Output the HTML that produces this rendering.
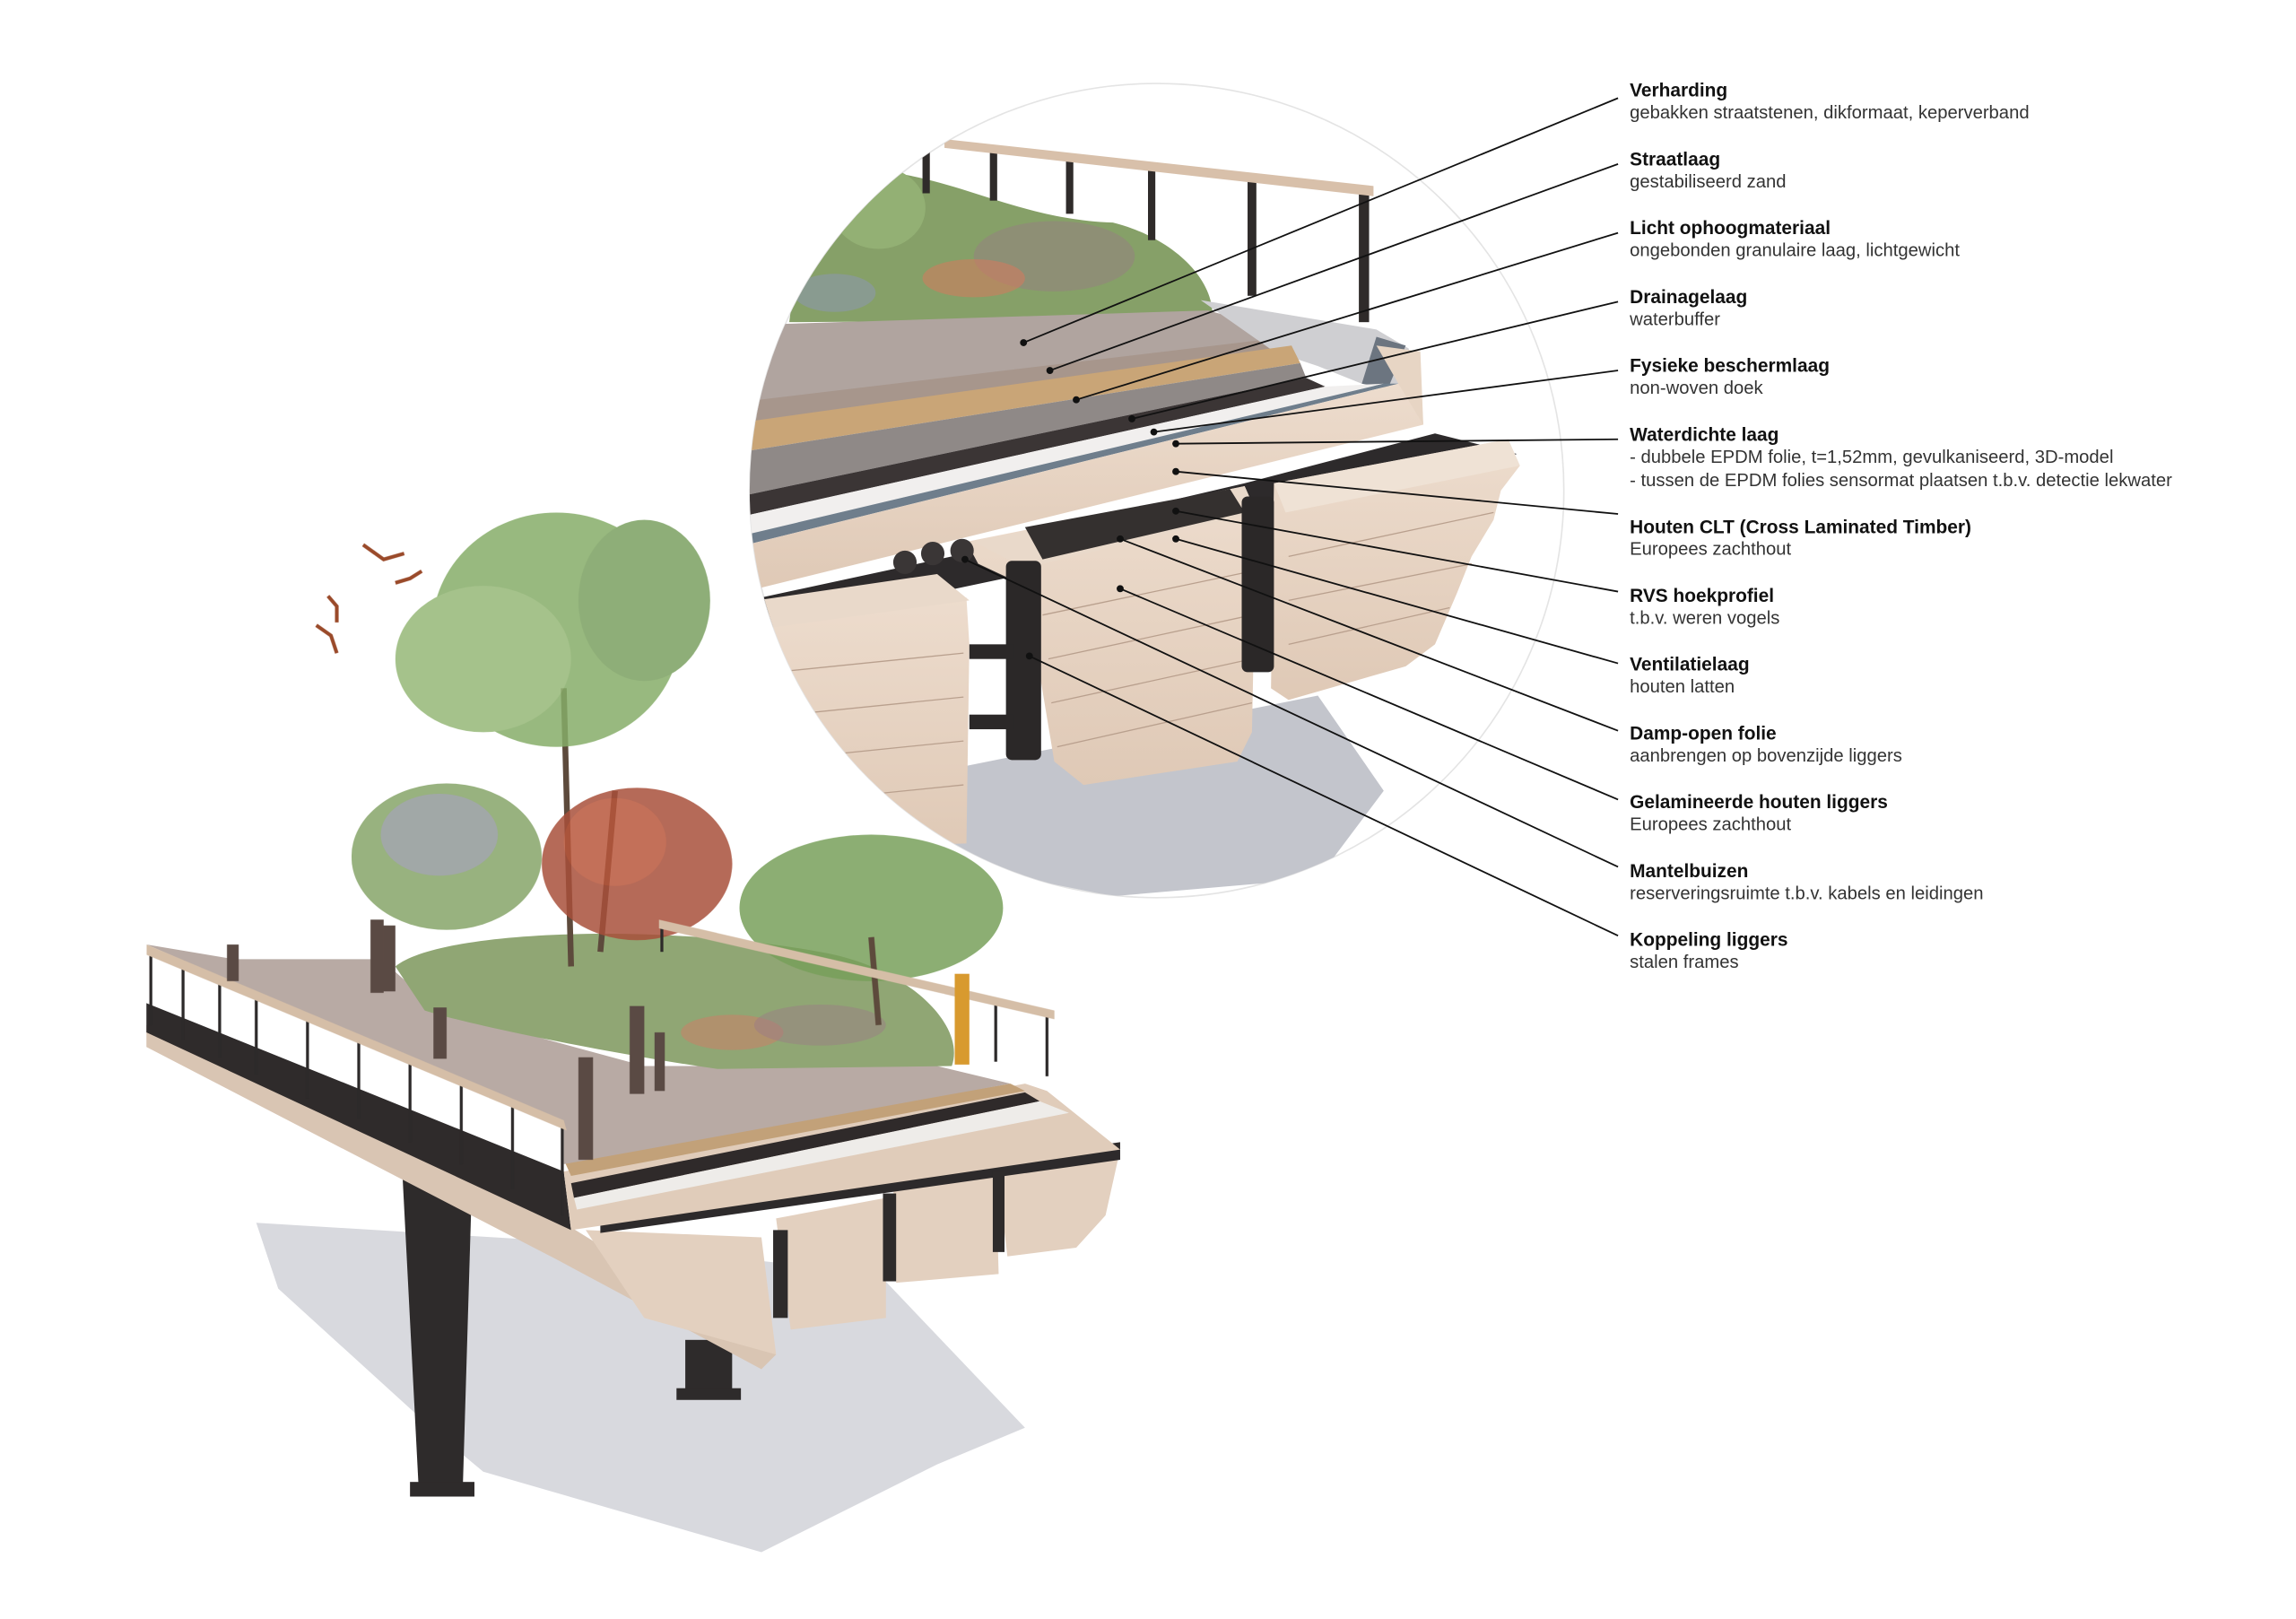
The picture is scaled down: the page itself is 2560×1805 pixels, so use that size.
<!DOCTYPE html>
<html><head><meta charset="utf-8"><style>
html,body{margin:0;padding:0;background:#fff;}
svg{display:block;}
.t{font-family:"Liberation Sans",sans-serif;font-weight:bold;font-size:12.8px;fill:#111;}
.s{font-family:"Liberation Sans",sans-serif;font-size:12.4px;fill:#333;}
</style></head><body>
<svg width="2560" height="1805" viewBox="0 0 1568 1105.6" preserveAspectRatio="none" xmlns="http://www.w3.org/2000/svg">
<defs>
<clipPath id="c"><circle cx="790" cy="335" r="278"/></clipPath>
<linearGradient id="wood" x1="0" y1="0" x2="0" y2="1"><stop offset="0" stop-color="#eddccd"/><stop offset="1" stop-color="#dfc9b6"/></linearGradient>
</defs>
<rect width="1568" height="1106" fill="#fff"/>

<!-- ===== Detail circle ===== -->
<circle cx="790" cy="335" r="278" fill="none" stroke="#e4e4e4" stroke-width="1"/>
<g clip-path="url(#c)">
 <!-- shadow -->
 <polygon points="650,525 900,475 945,540 900,600 760,612 650,590" fill="#c3c5cc"/>
 <!-- plants -->
 <path d="M539,220 C545,170 570,130 610,118 C660,125 700,150 760,152 C800,162 830,190 828,218 Z" fill="#86a068"/>
 <ellipse cx="600" cy="142" rx="32" ry="28" fill="#93b074"/>
 <ellipse cx="720" cy="175" rx="55" ry="24" fill="#9a7a86" opacity="0.45"/>
 <ellipse cx="665" cy="190" rx="35" ry="13" fill="#d57a5c" opacity="0.55"/>
 <ellipse cx="570" cy="200" rx="28" ry="13" fill="#8d95c0" opacity="0.45"/>
 <!-- railing -->
 <g fill="#2f2b2a">
  <rect x="630" y="102" width="5" height="30"/><rect x="676" y="102" width="5" height="35"/>
  <rect x="728" y="108" width="5" height="38"/><rect x="784" y="114" width="5" height="50"/>
  <rect x="852" y="122" width="6" height="80"/><rect x="928" y="130" width="7" height="90"/>
 </g>
 <polygon points="645,95 938,127 938,134 645,101" fill="#d8c0aa"/>
 <!-- paving -->
 <polygon points="510,222 825,212 872,225 880,238 623,263 510,285" fill="#b0a49f"/>
 <polygon points="510,274 880,230 882,238 510,290" fill="#a7968c"/>
 <!-- right end face -->
 <polygon points="820,205 940,225 962,238 968,270 930,262 900,250 870,240" fill="#cfcfd2"/>
 <polygon points="940,230 960,236 948,265 930,262" fill="#6c7580"/>
 <!-- sand -->
 <polygon points="510,288 882,236 888,248 510,308" fill="#c9a577"/>
 <!-- gravel -->
 <polygon points="510,308 888,248 892,258 510,338" fill="#8f8987"/>
 <!-- dark -->
 <polygon points="510,338 892,258 905,264 510,352" fill="#3b3535"/>
 <!-- white -->
 <polygon points="510,352 905,264 945,262 510,365" fill="#f1efee"/>
 <!-- blue stripe -->
 <polygon points="510,365 945,262 955,262 510,372" fill="#6f7e8c"/>
 <!-- CLT -->
 <polygon points="510,372 955,262 970,268 972,290 517,402" fill="url(#wood)"/>
 <polygon points="940,236 970,240 972,290 955,262" fill="#e7d5c4"/>
 <!-- beams dark tops -->
 <polygon points="520,408 650,380 700,365 850,330 980,296 1036,310 860,352 700,392 520,430" fill="#2d2a2b"/>
 <!-- right beam -->
 <polygon points="870,330 1030,300 1038,318 1025,335 1020,355 1005,380 995,405 980,440 960,455 880,478 868,470" fill="url(#wood)"/>
 <polygon points="870,330 1030,300 1038,318 878,350" fill="#efe2d5"/>
 <!-- middle beam -->
 <polygon points="660,370 850,332 858,350 855,500 845,520 740,536 720,520 700,400 668,385" fill="url(#wood)"/>
 <polygon points="665,370 850,332 858,350 700,388" fill="#e9d9ca"/>
 <polygon points="700,360 840,334 850,350 712,382" fill="#34302f"/>
 <!-- left beam -->
 <polygon points="517,420 660,408 662,440 660,576 517,580" fill="url(#wood)"/>
 <polygon points="517,410 640,392 662,410 517,430" fill="#e9d9ca"/>
 <!-- beam lines -->
 <g stroke="#b9a08e" stroke-width="0.8" fill="none">
  <path d="M520,460 L658,446 M520,490 L658,476 M520,520 L658,506 M520,550 L658,536"/>
  <path d="M712,420 L855,390 M716,450 L855,420 M718,480 L855,450 M722,510 L855,480"/>
  <path d="M880,380 L1020,350 M880,410 L1005,385 M880,440 L990,415"/>
 </g>
 <!-- steel frames -->
 <rect x="687" y="383" width="24" height="136" rx="4" fill="#2b2828"/>
 <rect x="662" y="440" width="30" height="10" fill="#2b2828"/>
 <rect x="662" y="488" width="30" height="10" fill="#2b2828"/>
 <rect x="848" y="339" width="22" height="120" rx="4" fill="#2b2828"/>
 <!-- pipes -->
 <circle cx="618" cy="384" r="8" fill="#3a3636"/><circle cx="637" cy="378" r="8" fill="#3a3636"/><circle cx="657" cy="376" r="8" fill="#3a3636"/>
</g>

<!-- leader lines -->
<g stroke="#111" stroke-width="1.1" fill="none">
 <line x1="699" y1="234" x2="1105" y2="67"/>
 <line x1="717" y1="253" x2="1105" y2="112"/>
 <line x1="735" y1="273" x2="1105" y2="159"/>
 <line x1="773" y1="286" x2="1105" y2="206"/>
 <line x1="788" y1="295" x2="1105" y2="253"/>
 <line x1="803" y1="303" x2="1105" y2="300"/>
 <line x1="803" y1="322" x2="1105" y2="351"/>
 <line x1="803" y1="349" x2="1105" y2="404"/>
 <line x1="803" y1="368" x2="1105" y2="453"/>
 <line x1="765" y1="368" x2="1105" y2="499"/>
 <line x1="765" y1="402" x2="1105" y2="546"/>
 <line x1="659" y1="382" x2="1105" y2="592"/>
 <line x1="703" y1="448" x2="1105" y2="639"/>
</g>
<g fill="#111">
 <circle cx="699" cy="234" r="2.4"/><circle cx="717" cy="253" r="2.4"/><circle cx="735" cy="273" r="2.4"/>
 <circle cx="773" cy="286" r="2.4"/><circle cx="788" cy="295" r="2.4"/><circle cx="803" cy="303" r="2.4"/>
 <circle cx="803" cy="322" r="2.4"/><circle cx="803" cy="349" r="2.4"/><circle cx="803" cy="368" r="2.4"/>
 <circle cx="765" cy="368" r="2.4"/><circle cx="765" cy="402" r="2.4"/><circle cx="659" cy="382" r="2.4"/>
 <circle cx="703" cy="448" r="2.4"/>
</g>

<!-- labels -->
<g>
 <text class="t" x="1113" y="66">Verharding</text><text class="s" x="1113" y="81">gebakken straatstenen, dikformaat, keperverband</text>
 <text class="t" x="1113" y="113">Straatlaag</text><text class="s" x="1113" y="128">gestabiliseerd zand</text>
 <text class="t" x="1113" y="160">Licht ophoogmateriaal</text><text class="s" x="1113" y="175">ongebonden granulaire laag, lichtgewicht</text>
 <text class="t" x="1113" y="207">Drainagelaag</text><text class="s" x="1113" y="222">waterbuffer</text>
 <text class="t" x="1113" y="254">Fysieke beschermlaag</text><text class="s" x="1113" y="269">non-woven doek</text>
 <text class="t" x="1113" y="301">Waterdichte laag</text><text class="s" x="1113" y="316">- dubbele EPDM folie, t=1,52mm, gevulkaniseerd, 3D-model</text><text class="s" x="1113" y="332">- tussen de EPDM folies sensormat plaatsen t.b.v. detectie lekwater</text>
 <text class="t" x="1113" y="364">Houten CLT (Cross Laminated Timber)</text><text class="s" x="1113" y="379">Europees zachthout</text>
 <text class="t" x="1113" y="411">RVS hoekprofiel</text><text class="s" x="1113" y="426">t.b.v. weren vogels</text>
 <text class="t" x="1113" y="458">Ventilatielaag</text><text class="s" x="1113" y="473">houten latten</text>
 <text class="t" x="1113" y="505">Damp-open folie</text><text class="s" x="1113" y="520">aanbrengen op bovenzijde liggers</text>
 <text class="t" x="1113" y="552">Gelamineerde houten liggers</text><text class="s" x="1113" y="567">Europees zachthout</text>
 <text class="t" x="1113" y="599">Mantelbuizen</text><text class="s" x="1113" y="614">reserveringsruimte t.b.v. kabels en leidingen</text>
 <text class="t" x="1113" y="646">Koppeling liggers</text><text class="s" x="1113" y="661">stalen frames</text>
</g>

<!-- ===== Bridge ===== -->
<polygon points="175,835 420,850 600,870 700,975 640,1000 520,1060 330,1005 300,980 190,880" fill="#d8d9de"/>
<polygon points="275,805 322,818 316,1018 286,1018" fill="#2e2b2b"/>
<rect x="280" y="1012" width="44" height="10" fill="#2e2b2b"/>
<rect x="468" y="915" width="32" height="38" fill="#2e2b2b"/>
<rect x="462" y="948" width="44" height="8" fill="#2e2b2b"/>
<polygon points="100,700 385,835 530,925 520,935 380,860 100,715" fill="#d9c5b3"/>
<polygon points="100,685 385,800 390,840 100,705" fill="#2f2b2b"/>
<polygon points="400,840 520,845 530,925 440,900 420,870" fill="#e3d0bf"/>
<polygon points="530,832 605,818 605,900 540,908" fill="#e3d0bf"/>
<polygon points="610,808 680,796 682,870 612,876" fill="#e3d0bf"/>
<polygon points="680,792 765,785 755,830 735,852 688,858" fill="#e3d0bf"/>
<polygon points="410,830 765,780 765,792 410,842" fill="#2d2a2b"/>
<g fill="#2e2b2b"><rect x="528" y="840" width="10" height="60"/><rect x="603" y="815" width="9" height="60"/><rect x="678" y="800" width="8" height="55"/></g>
<polygon points="385,800 700,740 715,745 765,785 390,840" fill="#e0ccba"/>
<polygon points="390,808 700,746 710,752 392,818" fill="#2f2a2a"/>
<polygon points="392,818 710,752 730,760 394,826" fill="#eeece9"/>
<polygon points="385,792 690,740 700,745 390,803" fill="#c2a179"/>
<polygon points="100,645 160,655 260,655 300,690 440,728 640,728 690,740 385,795 385,770" fill="#b8aaa4"/>
<path d="M270,660 C300,635 450,630 560,650 C620,660 660,700 650,728 L490,730 C420,720 320,700 290,690 Z" fill="#90a674"/>
<ellipse cx="500" cy="705" rx="35" ry="12" fill="#d07c66" opacity="0.5"/>
<ellipse cx="560" cy="700" rx="45" ry="14" fill="#9b7a88" opacity="0.45"/>
<g>
 <path d="M385,470 L390,660 M420,540 L410,650" stroke="#5d4a3c" stroke-width="4" fill="none"/>
 <g opacity="0.85">
 <ellipse cx="380" cy="430" rx="85" ry="80" fill="#86ad68"/>
 <ellipse cx="330" cy="450" rx="60" ry="50" fill="#95b776"/>
 <ellipse cx="440" cy="410" rx="45" ry="55" fill="#7aa060"/>
 <ellipse cx="305" cy="585" rx="65" ry="50" fill="#86a468"/>
 <ellipse cx="300" cy="570" rx="40" ry="28" fill="#9a8fbf" opacity="0.55"/>
 <ellipse cx="435" cy="590" rx="65" ry="52" fill="#a8503a"/>
 <ellipse cx="420" cy="575" rx="35" ry="30" fill="#c05a3c" opacity="0.7"/>
 <ellipse cx="595" cy="620" rx="90" ry="50" fill="#78a05a"/>
 </g>
 <path d="M595,640 L600,700" stroke="#5d4a3c" stroke-width="4"/>
</g>
<g stroke="#2d2a2a" stroke-width="2">
 <line x1="103" y1="648" x2="103" y2="700"/><line x1="125" y1="656" x2="125" y2="710"/>
 <line x1="150" y1="667" x2="150" y2="722"/><line x1="175" y1="679" x2="175" y2="734"/>
 <line x1="210" y1="694" x2="210" y2="750"/><line x1="245" y1="710" x2="245" y2="764"/>
 <line x1="280" y1="725" x2="280" y2="780"/><line x1="315" y1="740" x2="315" y2="795"/>
 <line x1="350" y1="756" x2="350" y2="812"/><line x1="384" y1="770" x2="384" y2="830"/>
 <line x1="452" y1="632" x2="452" y2="650"/><line x1="715" y1="693" x2="715" y2="735"/><line x1="680" y1="683" x2="680" y2="725"/>
</g>
<polygon points="100,645 385,765 387,772 100,652" fill="#d5bea7"/>
<polygon points="450,628 720,690 720,696 450,634" fill="#d5bea7"/>
<g fill="#5a4a44">
 <rect x="155" y="645" width="8" height="25"/><rect x="253" y="628" width="9" height="50"/><rect x="262" y="632" width="8" height="45"/>
 <rect x="296" y="688" width="9" height="35"/><rect x="430" y="687" width="10" height="60"/><rect x="447" y="705" width="7" height="40"/>
 <rect x="395" y="722" width="10" height="70"/>
</g>
<rect x="652" y="665" width="10" height="62" fill="#d89a2f"/>
<g stroke="#9a4a2a" stroke-width="2.5" fill="none">
 <path d="M248,372 L262,382 L276,378"/><path d="M270,398 L280,395 L288,390"/>
 <path d="M224,407 L230,414 L230,425"/><path d="M216,427 L226,434 L230,446"/>
</g>
</svg>
</body></html>
